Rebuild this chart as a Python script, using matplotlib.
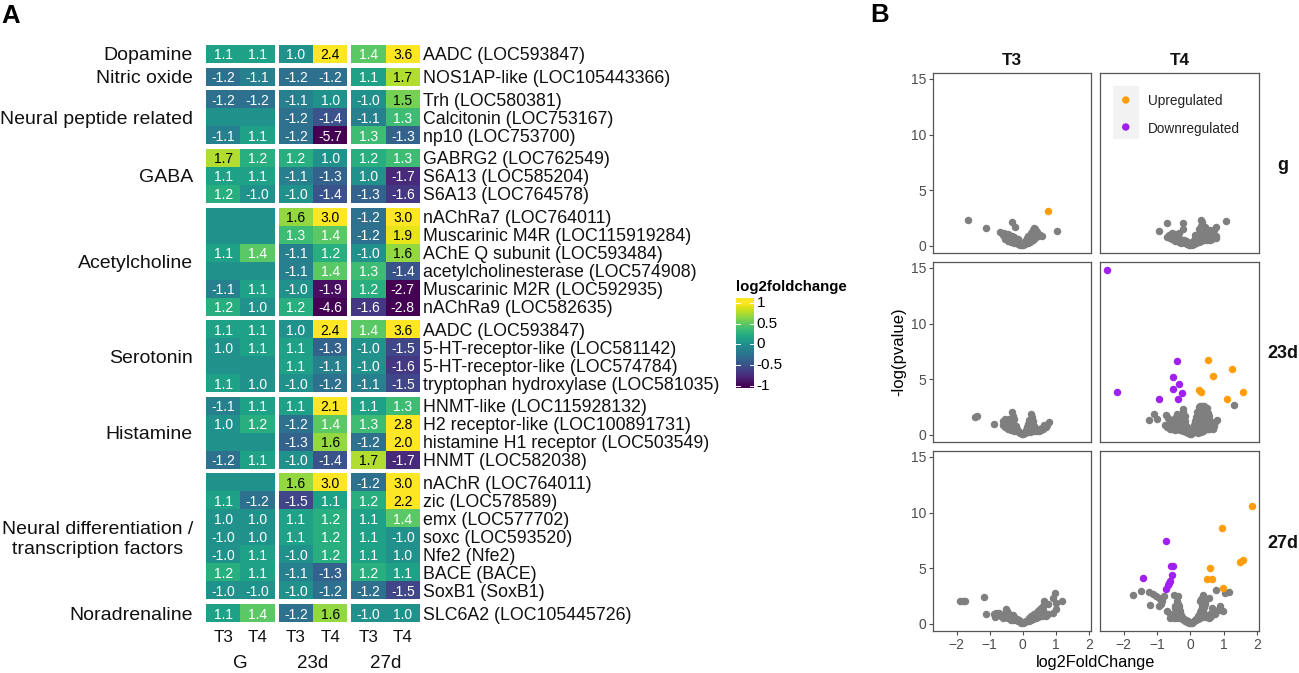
import numpy as np
import matplotlib
matplotlib.use("Agg")
import matplotlib.pyplot as plt
from matplotlib.patches import Rectangle

plt.rcParams['font.family'] = ['Liberation Sans', 'DejaVu Sans']

W, H = 1299, 673
N = None

# Panel A data
group_names = ["Dopamine", "Nitric oxide", "Neural peptide related", "GABA", "Acetylcholine",
               "Serotonin", "Histamine", "Neural differentiation /\ntranscription factors", "Noradrenaline"]
group_sizes = [1, 1, 3, 3, 6, 4, 4, 7, 1]
gene_labels = [
    "AADC (LOC593847)", "NOS1AP-like (LOC105443366)", "Trh (LOC580381)", "Calcitonin (LOC753167)",
    "np10 (LOC753700)", "GABRG2 (LOC762549)", "S6A13 (LOC585204)", "S6A13 (LOC764578)",
    "nAChRa7 (LOC764011)", "Muscarinic M4R (LOC115919284)", "AChE Q subunit (LOC593484)",
    "acetylcholinesterase (LOC574908)", "Muscarinic M2R (LOC592935)", "nAChRa9 (LOC582635)",
    "AADC (LOC593847)", "5-HT-receptor-like (LOC581142)", "5-HT-receptor-like (LOC574784)",
    "tryptophan hydroxylase (LOC581035)", "HNMT-like (LOC115928132)", "H2 receptor-like (LOC100891731)",
    "histamine H1 receptor (LOC503549)", "HNMT (LOC582038)", "nAChR (LOC764011)", "zic (LOC578589)",
    "emx (LOC577702)", "soxc (LOC593520)", "Nfe2 (Nfe2)", "BACE (BACE)", "SoxB1 (SoxB1)",
    "SLC6A2 (LOC105445726)"]
fold_values = [
    [1.1, 1.1, 1.0, 2.4, 1.4, 3.6],
    [-1.2, -1.1, -1.2, -1.2, 1.1, 1.7],
    [-1.2, -1.2, -1.1, 1.0, -1.0, 1.5],
    [N, N, -1.2, -1.4, -1.1, 1.3],
    [-1.1, 1.1, -1.2, -5.7, 1.3, -1.3],
    [1.7, 1.2, 1.2, 1.0, 1.2, 1.3],
    [1.1, 1.1, -1.1, -1.3, 1.0, -1.7],
    [1.2, -1.0, -1.0, -1.4, -1.3, -1.6],
    [N, N, 1.6, 3.0, -1.2, 3.0],
    [N, N, 1.3, 1.4, -1.2, 1.9],
    [1.1, 1.4, -1.1, 1.2, -1.0, 1.6],
    [N, N, -1.1, 1.4, 1.3, -1.4],
    [-1.1, 1.1, -1.0, -1.9, 1.2, -2.7],
    [1.2, 1.0, 1.2, -4.6, -1.6, -2.8],
    [1.1, 1.1, 1.0, 2.4, 1.4, 3.6],
    [1.0, 1.1, 1.1, -1.3, -1.0, -1.5],
    [N, N, 1.1, -1.1, -1.0, -1.6],
    [1.1, 1.0, -1.0, -1.2, -1.1, -1.5],
    [-1.1, 1.1, 1.1, 2.1, 1.1, 1.3],
    [1.0, 1.2, -1.2, 1.4, 1.3, 2.8],
    [N, N, -1.3, 1.6, -1.2, 2.0],
    [-1.2, 1.1, -1.0, -1.4, 1.7, -1.7],
    [N, N, 1.6, 3.0, -1.2, 3.0],
    [1.1, -1.2, -1.5, 1.1, 1.2, 2.2],
    [1.0, 1.0, 1.1, 1.2, 1.1, 1.4],
    [-1.0, 1.0, 1.1, 1.2, 1.1, -1.0],
    [-1.0, 1.1, -1.0, 1.2, 1.1, 1.0],
    [1.2, 1.1, -1.1, -1.3, 1.2, 1.1],
    [-1.0, -1.0, -1.0, -1.2, -1.2, -1.5],
    [1.1, 1.4, -1.2, 1.6, -1.0, 1.0]]
stage_names = ["G", "23d", "27d"]
tissue_names = ["T3", "T4"]

# Panel B data, (log2FoldChange, -log(pvalue))
g_t3_grey = [(-1.66, 2.3), (-1.1, 1.6), (-0.68, 1.25), (-0.34, 2.1), (-0.22, 1.65), (1.04, 1.3), (0.58, 0.85),
             (0.33, 1.55), (0.38, 1.4), (0.3, 1.3), (0.25, 1.1), (0.42, 1.2), (0.48, 1.0), (0.2, 0.9), (0.15, 0.7),
             (0.1, 0.5), (0.05, 0.25), (0.02, 0.08), (-0.02, 0.05), (-0.06, 0.15), (-0.1, 0.3), (-0.15, 0.35),
             (-0.2, 0.45), (-0.25, 0.5), (-0.3, 0.55), (-0.35, 0.6), (-0.4, 0.7), (-0.45, 0.75), (-0.5, 0.65),
             (-0.55, 0.8), (-0.6, 0.95), (-0.5, 1.0), (-0.42, 0.95), (-0.33, 0.85), (-0.25, 0.8), (-0.15, 0.6),
             (0.12, 0.3), (0.18, 0.5), (0.22, 0.7), (0.28, 0.85), (0.35, 1.0), (0.25, 0.6), (-0.58, 1.1),
             (-0.55, 0.6), (-0.45, 0.45), (-0.35, 0.35), (-0.25, 0.25), (-0.15, 0.15), (-0.08, 0.08), (-0.45, 1.05),
             (-0.38, 0.85), (-0.2, 0.6), (-0.1, 0.45), (0.08, 0.12), (0.15, 0.2), (0.22, 0.35), (0.3, 0.55),
             (0.38, 0.7), (0.45, 0.85), (0.52, 0.95), (0.33, 1.25), (0.28, 1.1), (0.22, 1.0), (0.36, 1.5),
             (0.31, 1.45), (0.4, 1.35), (0.16, 0.9), (0.12, 0.65)]
g_t3_up = [(0.75, 3.1)]
g_t4_grey = [(-0.95, 1.35), (-0.7, 2.05), (-0.23, 2.05), (0.32, 2.35), (0.36, 2.1), (1.08, 2.2), (0.77, 1.7),
             (0.76, 0.85), (-0.46, 1.05), (-0.21, 1.5), (-0.6, 0.7), (-0.5, 0.65), (-0.35, 1.1), (-0.3, 0.6),
             (-0.25, 0.45), (-0.2, 0.35), (-0.15, 0.25), (-0.1, 0.15), (-0.05, 0.08), (0.0, 0.03), (0.05, 0.1),
             (0.1, 0.25), (0.12, 0.5), (0.18, 0.4), (0.2, 0.7), (0.25, 0.9), (0.28, 1.2), (0.25, 1.5), (0.3, 0.6),
             (0.35, 0.8), (0.4, 1.0), (0.45, 0.7), (0.5, 1.3), (0.55, 0.6), (0.6, 1.4), (0.65, 0.8), (0.45, 1.7),
             (0.38, 1.4), (0.6, 0.55), (-0.12, 0.45), (-0.42, 0.55), (0.15, 0.95), (0.32, 1.75),
             (-0.55, 0.6), (-0.45, 0.4), (-0.35, 0.3), (-0.28, 0.25), (-0.4, 0.65), (-0.2, 0.55), (-0.15, 0.45),
             (-0.08, 0.3), (0.1, 0.15), (0.18, 0.25), (0.25, 0.35), (0.32, 0.45), (0.4, 0.5), (0.5, 0.55), (0.15, 0.6),
             (0.22, 0.85), (0.3, 1.05), (0.35, 1.25), (0.42, 1.3), (0.5, 0.9), (0.55, 1.0), (0.65, 0.6), (0.6, 1.0),
             (0.7, 1.45), (0.55, 1.35), (-0.7, 0.75), (-0.65, 1.0), (-0.55, 1.1), (0.78, 0.65)]
d23_t3_grey = [(-1.45, 1.55), (-1.38, 1.7), (-0.87, 0.95), (-0.32, 2.0), (0.24, 1.85), (0.8, 1.15), (0.65, 0.9),
               (0.6, 0.7), (0.7, 0.65), (-0.6, 1.25), (-0.55, 1.4), (-0.6, 0.85), (-0.55, 1.0), (-0.5, 0.75),
               (-0.48, 1.2), (-0.42, 1.4), (-0.4, 1.0), (-0.35, 0.7), (-0.3, 1.65), (-0.28, 1.2), (-0.25, 0.85),
               (-0.22, 0.55), (-0.18, 0.35), (-0.12, 0.25), (-0.08, 0.15), (-0.03, 0.06), (0.02, 0.05), (0.07, 0.15),
               (0.1, 0.4), (0.13, 0.7), (0.16, 1.0), (0.2, 1.3), (0.27, 1.55), (0.3, 1.25), (0.28, 0.95), (0.22, 0.6),
               (0.28, 0.35), (0.35, 0.45), (0.4, 0.3), (0.45, 0.4), (-0.45, 0.55), (-0.35, 0.45), (-0.25, 0.3),
               (0.34, 0.8), (0.18, 0.3), (-0.38, 0.85), (0.5, 0.35), (0.55, 0.45),
               (-0.55, 0.65), (-0.5, 1.05), (-0.45, 0.9), (-0.38, 1.2), (-0.32, 1.0), (-0.3, 0.55), (-0.27, 0.7),
               (-0.25, 1.4), (-0.2, 0.8), (-0.18, 0.55), (-0.15, 0.35), (-0.1, 0.2), (-0.4, 0.6), (-0.48, 0.65),
               (-0.33, 1.4), (0.1, 0.2), (0.12, 0.25), (0.16, 0.6), (0.19, 0.85), (0.24, 1.1), (0.26, 0.5), (0.3, 0.7),
               (0.33, 0.55), (0.38, 0.6), (0.22, 0.25), (0.3, 0.3), (0.5, 0.5), (0.62, 0.55), (0.72, 0.85), (0.18, 1.15)]
d23_t4_grey = [(1.3, 2.7), (-1.23, 1.35), (-1.08, 1.9), (-1.01, 1.4), (0.79, 1.3), (-0.73, 1.8), (-0.68, 1.5),
               (-0.75, 0.9), (-0.65, 0.75), (-0.6, 1.2), (-0.55, 0.55), (-0.5, 1.0), (-0.45, 1.5), (-0.42, 0.7),
               (-0.4, 1.9), (-0.35, 1.25), (-0.32, 0.4), (-0.28, 1.7), (-0.25, 0.9), (-0.23, 2.3), (-0.22, 2.0),
               (-0.2, 1.4), (-0.18, 0.45), (-0.14, 0.75), (-0.12, 0.25), (-0.07, 0.15), (-0.02, 0.05), (0.03, 0.05),
               (0.07, 0.2), (0.1, 0.5), (0.12, 0.85), (0.15, 1.2), (0.18, 1.6), (0.2, 2.0), (0.25, 2.5), (0.3, 2.6),
               (0.36, 2.6), (0.42, 2.55), (0.5, 2.4), (0.25, 1.8), (0.3, 1.3), (0.35, 1.9), (0.4, 1.5), (0.45, 2.0),
               (0.5, 1.6), (0.3, 0.9), (0.35, 0.6), (0.22, 0.45), (0.42, 0.85), (0.48, 1.1), (0.55, 1.3), (0.6, 0.9),
               (0.55, 0.55), (0.68, 0.5), (0.7, 0.75), (-0.5, 0.55), (-0.38, 1.0), (-0.3, 0.65), (-0.6, 0.85),
               (0.18, 0.3), (0.4, 0.4), (0.45, 1.8), (0.52, 1.95), (0.28, 2.2),
               (-0.7, 0.65), (-0.62, 0.55), (-0.55, 0.8), (-0.52, 1.25), (-0.48, 0.75), (-0.45, 0.45), (-0.4, 0.55),
               (-0.4, 1.2), (-0.37, 1.55), (-0.34, 0.8), (-0.32, 1.45), (-0.3, 1.1), (-0.28, 0.5), (-0.27, 1.3),
               (-0.25, 0.6), (-0.24, 1.6), (-0.22, 0.3), (-0.2, 1.1), (-0.18, 0.8), (-0.17, 1.7), (-0.15, 0.5),
               (-0.15, 1.2), (-0.1, 0.45), (-0.1, 0.7), (0.05, 0.15), (0.12, 0.2), (0.15, 0.4), (0.15, 0.75), (0.18, 1.0),
               (0.2, 1.4), (0.22, 0.8), (0.25, 0.3), (0.25, 0.65), (0.25, 1.1), (0.28, 1.55), (0.3, 0.45), (0.32, 2.2),
               (0.35, 0.95), (0.35, 1.5), (0.38, 1.15), (0.38, 2.3), (0.4, 0.65), (0.42, 1.9), (0.45, 0.55), (0.45, 1.35),
               (0.48, 2.15), (0.5, 0.75), (0.52, 0.5), (0.52, 1.0), (0.55, 1.7), (0.58, 0.65), (0.62, 0.6), (0.6, 1.2),
               (0.75, 1.15), (0.65, 0.75), (0.38, 0.35), (0.33, 0.25), (0.22, 0.15), (0.3, 1.9), (0.22, 1.7), (0.4, 2.1)]
d23_t4_up = [(0.52, 6.7), (1.25, 5.9), (0.68, 5.25), (0.27, 4.05), (0.33, 3.85), (1.58, 3.8), (1.1, 3.25)]
d23_t4_down = [(-2.5, 14.8), (-2.2, 3.87), (-0.93, 3.2), (-0.36, 3.2), (-0.52, 4.07), (-0.24, 3.77), (-0.33, 4.6),
               (-0.51, 5.15), (-0.4, 6.65)]
d27_t3_grey = [(-1.9, 2.05), (-1.8, 2.05), (-1.75, 2.05), (-1.17, 2.4), (-1.1, 0.9), (0.97, 2.8), (0.9, 2.3),
               (1.17, 2.05), (1.0, 1.9), (0.65, 2.0), (0.75, 1.8), (0.9, 1.0), (1.0, 1.3), (-0.88, 0.85), (-0.8, 0.95),
               (-0.72, 1.0), (-0.83, 0.6), (-0.7, 0.75), (-0.6, 0.55), (-0.55, 0.85), (-0.5, 1.3), (-0.47, 1.1),
               (-0.42, 0.9), (-0.38, 0.65), (-0.3, 0.75), (-0.25, 0.5), (-0.2, 0.35), (-0.15, 0.25), (-0.1, 0.2),
               (-0.05, 0.1), (0.0, 0.03), (0.05, 0.12), (0.1, 0.25), (0.15, 0.35), (0.2, 0.5), (0.25, 0.65), (0.3, 0.8),
               (0.35, 0.9), (0.4, 1.0), (0.45, 1.1), (0.5, 1.25), (0.55, 1.4), (0.6, 1.55), (0.62, 1.2), (0.55, 0.9),
               (0.65, 0.8), (0.75, 0.85), (0.5, 0.7), (0.4, 0.55), (0.3, 0.4), (-0.45, 0.5), (-0.35, 0.35),
               (-0.75, 0.75), (-0.65, 0.7), (-0.58, 0.65), (-0.5, 0.6), (-0.52, 1.05), (-0.45, 0.8), (-0.4, 0.45),
               (-0.33, 0.55), (-0.28, 0.35), (-0.22, 0.5), (-0.18, 0.4), (-0.12, 0.3), (0.08, 0.18), (0.18, 0.25),
               (0.25, 0.3), (0.33, 0.5), (0.38, 0.75), (0.45, 0.6), (0.52, 1.05), (0.58, 0.7), (0.7, 0.7), (0.48, 0.85)]
d27_t4_grey = [(-1.73, 2.55), (-1.47, 2.95), (-1.23, 2.85), (-1.13, 2.7), (-1.22, 1.7), (-0.95, 2.3), (-1.03, 2.5),
               (-0.8, 2.5), (-0.85, 2.0), (-0.95, 1.6), (-0.88, 1.75), (-0.7, 1.1), (-0.62, 0.9), (-0.6, 0.55),
               (-0.5, 2.55), (-0.38, 2.45), (-0.4, 2.0), (-0.45, 1.6), (-0.35, 1.35), (-0.42, 1.2), (-0.5, 0.85),
               (-0.35, 0.75), (-0.3, 0.6), (-0.25, 0.45), (-0.2, 0.35), (-0.15, 0.25), (-0.1, 0.15), (-0.04, 0.07),
               (0.02, 0.04), (0.08, 0.15), (0.13, 0.3), (0.18, 0.45), (0.22, 0.65), (0.27, 0.8), (0.32, 0.95),
               (0.38, 1.2), (0.3, 2.0), (0.33, 2.2), (0.38, 2.55), (0.42, 2.3), (0.45, 1.8), (0.55, 2.3), (0.4, 0.65),
               (0.48, 0.8), (0.55, 0.55), (0.62, 0.7), (0.68, 1.0), (0.66, 1.4), (0.75, 0.9), (0.85, 1.2), (0.9, 1.55),
               (0.97, 1.1), (0.76, 3.0), (1.03, 2.75), (1.15, 2.85),
               (-0.55, 0.7), (-0.48, 0.55), (-0.4, 0.5), (-0.33, 1.6), (-0.38, 1.75), (-0.45, 1.4), (-0.3, 1.1),
               (-0.28, 0.75), (-0.22, 0.55), (-0.12, 0.3), (-0.08, 0.2), (0.06, 0.1), (0.12, 0.2), (0.17, 0.3),
               (0.23, 0.4), (0.28, 0.5), (0.33, 0.6), (0.28, 1.05), (0.33, 1.25), (0.35, 1.55), (0.38, 1.85), (0.43, 2.0),
               (0.35, 2.05), (0.4, 1.5), (0.45, 0.6), (0.52, 0.7), (0.6, 0.6), (0.58, 0.85), (0.65, 0.85), (0.72, 1.2)]
d27_t4_up = [(1.86, 10.55), (0.96, 8.6), (1.59, 5.75), (1.48, 5.55), (0.59, 5.05), (0.51, 4.0), (0.64, 4.0), (0.98, 3.2)]
d27_t4_down = [(-1.41, 4.15), (-0.73, 7.4), (-0.59, 5.2), (-0.51, 5.2), (-0.56, 4.35), (-0.62, 3.8), (-0.64, 3.65),
               (-0.67, 3.5), (-0.74, 3.1)]

UP = "#FF9D0B"
DOWN = "#A020F0"
GREY = "#7F7F7F"
TICK_GREY = "#4D4D4D"
DOT = 29


def px_axes(left, top, right, bottom):
    return fig.add_axes([left / W, 1 - bottom / H, (right - left) / W, (bottom - top) / H])


fig = plt.figure(figsize=(W / 100, H / 100), dpi=100)
fig.text(1 / W, 1 - 16 / H, "A", fontsize=18.5, fontweight="bold", va="center")
fig.text(870 / W, 1 - 15 / H, "B", fontsize=18.5, fontweight="bold", va="center")

# Panel A heatmap, x unit = one column, y unit = one row
ax = px_axes(206, 45, 420, 622)
col_gap = 0.1165
row_gap = 0.26
values = np.array(fold_values, dtype=float)
shown = np.nan_to_num(np.sign(values) * np.log2(np.abs(values)), nan=0.0)
stage_starts = [i * (2 + col_gap) for i in range(3)]

row = 0
y = 0.0
for name, size in zip(group_names, group_sizes):
    for s, x0 in enumerate(stage_starts):
        ax.pcolormesh([x0, x0 + 1, x0 + 2], np.arange(size + 1) + y, shown[row:row + size, 2 * s:2 * s + 2],
                      cmap="viridis", vmin=-1, vmax=1, shading="flat", antialiased=False, linewidth=0, rasterized=True)
    ax.text(-0.38, y + size / 2, name, ha="right", va="center_baseline", fontsize=14, multialignment="center",
            color="#111111")
    for i in range(size):
        yc = y + i + 0.5
        ax.text(stage_starts[-1] + 2.1, yc, gene_labels[row + i], ha="left", va="center_baseline", fontsize=12.8,
                color="#111111")
        for c in range(6):
            v = values[row + i, c]
            if np.isnan(v):
                continue
            xc = stage_starts[c // 2] + c % 2 + 0.5
            ax.text(xc, yc, f"{v:.1f}", ha="center", va="center_baseline", fontsize=10,
                    color="black" if v >= 1.5 else "white")
    row += size
    y += size + row_gap

y_end = y - row_gap
ax.set_xlim(0, stage_starts[-1] + 2)
ax.set_ylim(y_end, 0)
ax.axis("off")
for s, x0 in enumerate(stage_starts):
    for t, tissue in enumerate(tissue_names):
        ax.text(x0 + t + 0.5, y_end + 0.85, tissue, ha="center", va="center", fontsize=12.3, color="#111111")
    ax.text(x0 + 1, y_end + 2.3, stage_names[s], ha="center", va="center", fontsize=13.5, color="#111111")

# colour bar
cax = px_axes(736, 298, 754, 388)
gradient = np.linspace(1.12, -1.05, 200).reshape(-1, 1)
cax.imshow(gradient, cmap="viridis", vmin=-1, vmax=1, aspect="auto", extent=[0, 1, -1.05, 1.12])
for tick in [-1, -0.5, 0, 0.5, 1]:
    cax.plot([0, 0.2], [tick, tick], color="white", lw=0.7)
    cax.plot([0.8, 1], [tick, tick], color="white", lw=0.7)
    cax.text(1.15, tick, f"{tick:g}", va="center", ha="left", fontsize=11)
cax.set_xlim(0, 1)
cax.set_ylim(-1.05, 1.12)
cax.axis("off")
fig.text(736 / W, 1 - 287 / H, "log2foldchange", fontsize=10.8, fontweight="bold", va="center")

# Panel B volcano plots
panel_rows = [(73, 253), (262, 442), (451, 631)]
panel_cols = [(933, 1091), (1100, 1259)]
panel_points = [
    [(g_t3_grey, g_t3_up, []), (g_t4_grey, [], [])],
    [(d23_t3_grey, [], []), (d23_t4_grey, d23_t4_up, d23_t4_down)],
    [(d27_t3_grey, [], []), (d27_t4_grey, d27_t4_up, d27_t4_down)]]
row_names = ["g", "23d", "27d"]

for r, (top, bottom) in enumerate(panel_rows):
    for c, (left, right) in enumerate(panel_cols):
        pax = px_axes(left, top, right, bottom)
        grey, up, down = panel_points[r][c]
        for pts, colour in [(grey, GREY), (up, UP), (down, DOWN)]:
            if pts:
                xs, ys = zip(*pts)
                pax.scatter(xs, ys, s=DOT, color=colour, linewidths=0, clip_on=False, zorder=3)
        pax.set_xlim(-2.71, 2.06)
        pax.set_ylim(-0.66, 15.54)
        pax.set_xticks([-2, -1, 0, 1, 2])
        pax.set_yticks([0, 5, 10, 15])
        pax.tick_params(colors=TICK_GREY, labelsize=10, width=0.8, length=3, pad=2,
                        left=c == 0, labelleft=c == 0, bottom=r == 2, labelbottom=r == 2)
        for spine in pax.spines.values():
            spine.set_color("#555555")
            spine.set_linewidth(0.9)
        if r == 0:
            pax.set_title(tissue_names[c], fontsize=12.3, fontweight="bold", pad=6, color="#111111")
        if c == 1:
            pax.text(1.151, 0.5, row_names[r], transform=pax.transAxes, fontsize=13, fontweight="bold",
                     ha="center", va="center_baseline", color="#111111")
        if r == 0 and c == 1:
            # legend drawn by hand because of the grey key background
            pax.add_patch(Rectangle((13 / 159, 0.636), 26 / 159, 0.289, transform=pax.transAxes,
                                    facecolor="#F2F2F2", edgecolor="none"))
            pax.scatter([0.162, 0.162], [0.85, 0.70], s=DOT, color=[UP, DOWN], linewidths=0,
                        transform=pax.transAxes, zorder=3)
            pax.text(0.30, 0.85, "Upregulated", transform=pax.transAxes, fontsize=9.8, va="center_baseline",
                     color="#222222")
            pax.text(0.30, 0.70, "Downregulated", transform=pax.transAxes, fontsize=9.8, va="center_baseline",
                     color="#222222")

fig.text(899 / W, 1 - 352 / H, "-log(pvalue)", rotation=90, ha="center", va="center", fontsize=12)
fig.text(1096 / W, 1 - 662 / H, "log2FoldChange", ha="center", va="center", fontsize=11.7)

fig.savefig("out.png", dpi=100)
